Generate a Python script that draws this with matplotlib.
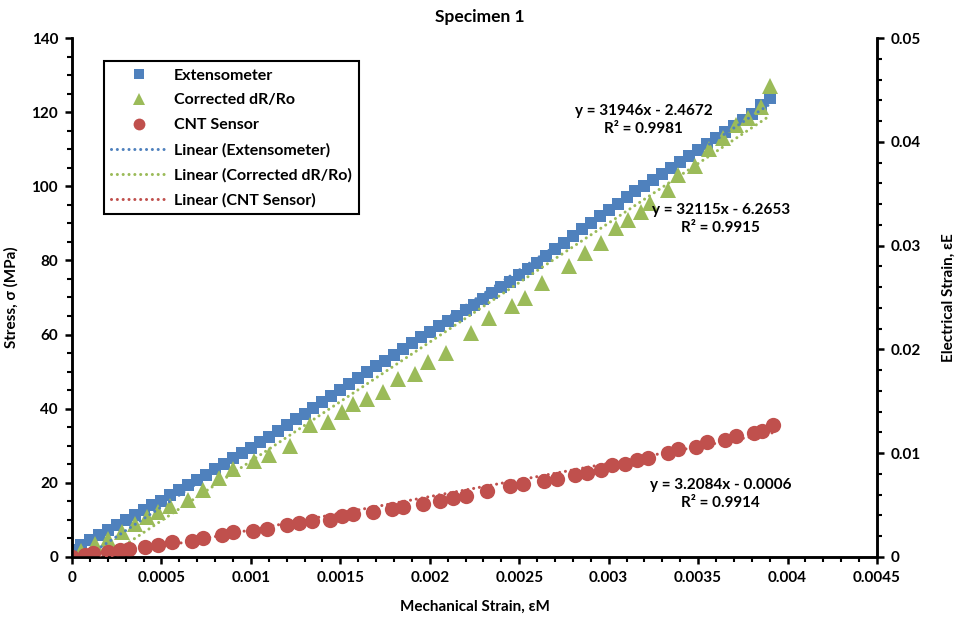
import numpy as np
import matplotlib
matplotlib.use("Agg")
import matplotlib.pyplot as plt
from matplotlib.lines import Line2D
from matplotlib.ticker import MultipleLocator

plt.rcParams['font.family'] = ['Lato', 'DejaVu Sans']
plt.rcParams['font.weight'] = 'bold'
plt.rcParams['axes.labelweight'] = 'bold'

# ---------------- data ----------------
ext_strain = [0.0, 0.00005, 0.0001, 0.00015, 0.0002, 0.00025, 0.0003, 0.00035, 0.0004, 0.00045,
              0.0005, 0.00055, 0.0006, 0.00065, 0.0007, 0.00075, 0.0008, 0.00085, 0.0009, 0.00095,
              0.001, 0.00105, 0.0011, 0.00115, 0.0012, 0.00125, 0.0013, 0.00135, 0.0014, 0.00145,
              0.0015, 0.00155, 0.0016, 0.00165, 0.0017, 0.00175, 0.0018, 0.00185, 0.0019, 0.00195,
              0.002, 0.00205, 0.0021, 0.00215, 0.0022, 0.00225, 0.0023, 0.00235, 0.0024, 0.00245,
              0.0025, 0.00255, 0.0026, 0.00265, 0.0027, 0.00275, 0.0028, 0.00285, 0.0029, 0.00295,
              0.003, 0.00305, 0.0031, 0.00315, 0.0032, 0.00325, 0.0033, 0.00335, 0.0034, 0.00345,
              0.0035, 0.00355, 0.0036, 0.00365, 0.0037, 0.00375, 0.0038, 0.00385, 0.0039]
ext_stress = [1.8, 3.2, 4.6, 6.0, 7.4, 8.7, 10.0, 11.3, 12.6, 13.9,
              15.2, 16.6, 18.0, 19.4, 20.8, 22.2, 23.7, 25.1, 26.6, 28.0,
              29.5, 31.0, 32.5, 34.0, 35.6, 37.1, 38.7, 40.2, 41.8, 43.4,
              45.0, 46.6, 48.2, 49.8, 51.4, 53.0, 54.6, 56.2, 57.8, 59.3,
              60.7, 62.2, 63.7, 65.1, 66.6, 68.1, 69.6, 71.1, 72.7, 74.3,
              76.0, 77.7, 79.4, 81.2, 83.0, 84.8, 86.6, 88.4, 90.2, 92.0,
              93.7, 95.3, 97.0, 98.6, 100.2, 101.8, 103.4, 105.0, 106.6, 108.2,
              109.8, 111.4, 113.0, 114.6, 116.2, 117.8, 119.4, 122.0, 123.8]

drr_strain = [0.00005, 0.00013, 0.0002, 0.00028, 0.00035, 0.00042, 0.00048, 0.00055, 0.00065, 0.00073,
              0.00082, 0.0009, 0.00102, 0.0011, 0.00122, 0.00133, 0.00143, 0.00151, 0.00157, 0.00165,
              0.00174, 0.00182, 0.00192, 0.00199, 0.00209, 0.00223, 0.00233, 0.00246, 0.00253, 0.00263,
              0.00278, 0.00287, 0.00296, 0.00304, 0.00311, 0.00318, 0.00323, 0.00333, 0.00339,
              0.00348, 0.00356, 0.00364, 0.00371, 0.00378, 0.00385, 0.0039]
drr_stress = [1.5, 3.5, 4.8, 6.8, 8.8, 10.8, 12.2, 13.8, 15.5, 18.2,
              21.2, 23.8, 25.8, 27.6, 30.0, 35.6, 36.4, 39.1, 41.3, 42.6,
              44.5, 48.0, 49.4, 52.6, 55.0, 60.3, 64.4, 67.7, 69.9, 73.9,
              78.5, 82.0, 84.6, 88.7, 91.0, 93.0, 95.5, 99.0, 103.0,
              105.5, 110.0, 113.0, 116.5, 118.4, 121.4, 127.0]

cnt_strain = [0.0, 0.00007, 0.00012, 0.0002, 0.00027, 0.00032, 0.00041, 0.00048, 0.00056, 0.00067,
              0.00073, 0.00084, 0.0009, 0.00101, 0.00109, 0.0012, 0.00127, 0.00134, 0.00144, 0.00151,
              0.00157, 0.00168, 0.00179, 0.00185, 0.00196, 0.00206, 0.00213, 0.0022, 0.00232, 0.00245,
              0.00252, 0.00264, 0.00271, 0.00281, 0.00288, 0.00296, 0.00302, 0.00309, 0.00316, 0.00322,
              0.00333, 0.00339, 0.00349, 0.00355, 0.00365, 0.00371, 0.00381, 0.00386, 0.00392]
cnt_elec = [0.0, 0.0002, 0.0004, 0.0005, 0.0007, 0.0008, 0.0010, 0.0012, 0.0014, 0.0015,
            0.0018, 0.0021, 0.0024, 0.0025, 0.0027, 0.0031, 0.0033, 0.0035, 0.0036, 0.0039,
            0.0041, 0.0043, 0.0046, 0.0048, 0.0051, 0.0054, 0.0057, 0.0059, 0.0064, 0.0068,
            0.0070, 0.0073, 0.0075, 0.0079, 0.0081, 0.0084, 0.0089, 0.0090, 0.0093, 0.0095,
            0.0100, 0.0104, 0.0106, 0.0111, 0.0113, 0.0117, 0.0119, 0.0121, 0.0127]

# trendline coefficients as printed on the chart
ext_fit = (31946, -2.4672)
drr_fit = (32115, -6.2653)
cnt_fit = (3.2084, -0.0006)

blue = '#4F81BD'
green = '#9BBB59'
red = '#C0504D'
dots = (0, (0.01, 1.9))

fig = plt.figure(figsize=(9.6, 6.19), dpi=100)
ax = fig.add_axes([0.075, 0.1002, 0.8385, 0.8384])
ax2 = ax.twinx()

ax.plot(ext_strain, ext_stress, 's', color=blue, ms=8.6, mew=0, zorder=2)
ax.plot(drr_strain, drr_stress, '^', color=green, ms=11.5, mew=0, zorder=3)

xe = np.array([ext_strain[0], ext_strain[-1]])
ax.plot(xe, ext_fit[0] * xe + ext_fit[1], linestyle=dots, color=blue,
        lw=2.2, dash_capstyle='round', zorder=4)
xd = np.array([drr_strain[0], drr_strain[-1]])
ax.plot(xd, drr_fit[0] * xd + drr_fit[1], linestyle=dots, color=green,
        lw=2.2, dash_capstyle='round', zorder=4)

ax2.plot(cnt_strain, cnt_elec, 'o', color=red, ms=11, mew=0, zorder=2)
xc = np.array([cnt_strain[0], cnt_strain[-1]])
ax2.plot(xc, cnt_fit[0] * xc + cnt_fit[1], linestyle=dots, color=red,
         lw=2.2, dash_capstyle='round', zorder=3)

ax.set_xlim(0, 0.0045)
ax.set_ylim(0, 140)
ax2.set_ylim(0, 0.05)

ax.xaxis.set_minor_locator(MultipleLocator(0.0001))
ax.yaxis.set_major_locator(MultipleLocator(20))
ax.yaxis.set_minor_locator(MultipleLocator(5))
ax2.yaxis.set_minor_locator(MultipleLocator(0.002))

x_ticks = [0, 0.0005, 0.001, 0.0015, 0.002, 0.0025, 0.003, 0.0035, 0.004, 0.0045]
x_tick_labels = ['0', '0.0005', '0.001', '0.0015', '0.002', '0.0025', '0.003',
                 '0.0035', '0.004', '0.0045']
y2_ticks = [0, 0.01, 0.02, 0.03, 0.04, 0.05]
y2_tick_labels = ['0', '0.01', '0.02', '0.03', '0.04', '0.05']
ax.set_xticks(x_ticks)
ax.set_xticklabels(x_tick_labels)
ax2.set_yticks(y2_ticks)
ax2.set_yticklabels(y2_tick_labels)

for a in (ax, ax2):
    a.tick_params(which='major', direction='out', length=5, width=1.8, labelsize=11, pad=5)
    a.tick_params(which='minor', direction='out', length=3.5, width=1.5)
    for s in a.spines.values():
        s.set_linewidth(1.8)
    a.spines['top'].set_visible(False)

ax.set_xlabel('Mechanical Strain, εM', fontsize=11, labelpad=11)
ax.set_ylabel('Stress, σ (MPa)', fontsize=11, labelpad=9)
ax2.set_ylabel('Electrical Strain, εE', fontsize=11, labelpad=15)
fig.text(0.5, 0.973, 'Specimen 1', ha='center', va='center', fontsize=12.5, fontweight='bold')

eq_kw = dict(transform=ax.transAxes, ha='center', va='center', fontsize=11,
             linespacing=1.35, zorder=10)
ax2.text(0.71, 0.842, 'y = 31946x - 2.4672\nR² = 0.9981', **eq_kw)
ax2.text(0.806, 0.651, 'y = 32115x - 6.2653\nR² = 0.9915', **eq_kw)
ax2.text(0.806, 0.122, 'y = 3.2084x - 0.0006\nR² = 0.9914', **eq_kw)

handles = [
    Line2D([], [], ls='none', marker='s', color=blue, ms=7, mew=0),
    Line2D([], [], ls='none', marker='^', color=green, ms=9, mew=0),
    Line2D([], [], ls='none', marker='o', color=red, ms=8.5, mew=0),
    Line2D([], [], linestyle=dots, color=blue, lw=2.2, dash_capstyle='round'),
    Line2D([], [], linestyle=dots, color=green, lw=2.2, dash_capstyle='round'),
    Line2D([], [], linestyle=dots, color=red, lw=2.2, dash_capstyle='round'),
]
labels = ['Extensometer', 'Corrected dR/Ro', 'CNT Sensor', 'Linear (Extensometer)',
          'Linear (Corrected dR/Ro)', 'Linear (CNT Sensor)']
leg = ax2.legend(handles, labels, loc='upper left', bbox_to_anchor=(0.04, 0.955),
                 borderaxespad=0, fontsize=11.5, frameon=True, fancybox=False,
                 edgecolor='black', framealpha=1, handlelength=3.4, handletextpad=0.5,
                 labelspacing=0.66, borderpad=0.45)
leg.get_frame().set_linewidth(1.5)

fig.savefig('out.png', dpi=100)
